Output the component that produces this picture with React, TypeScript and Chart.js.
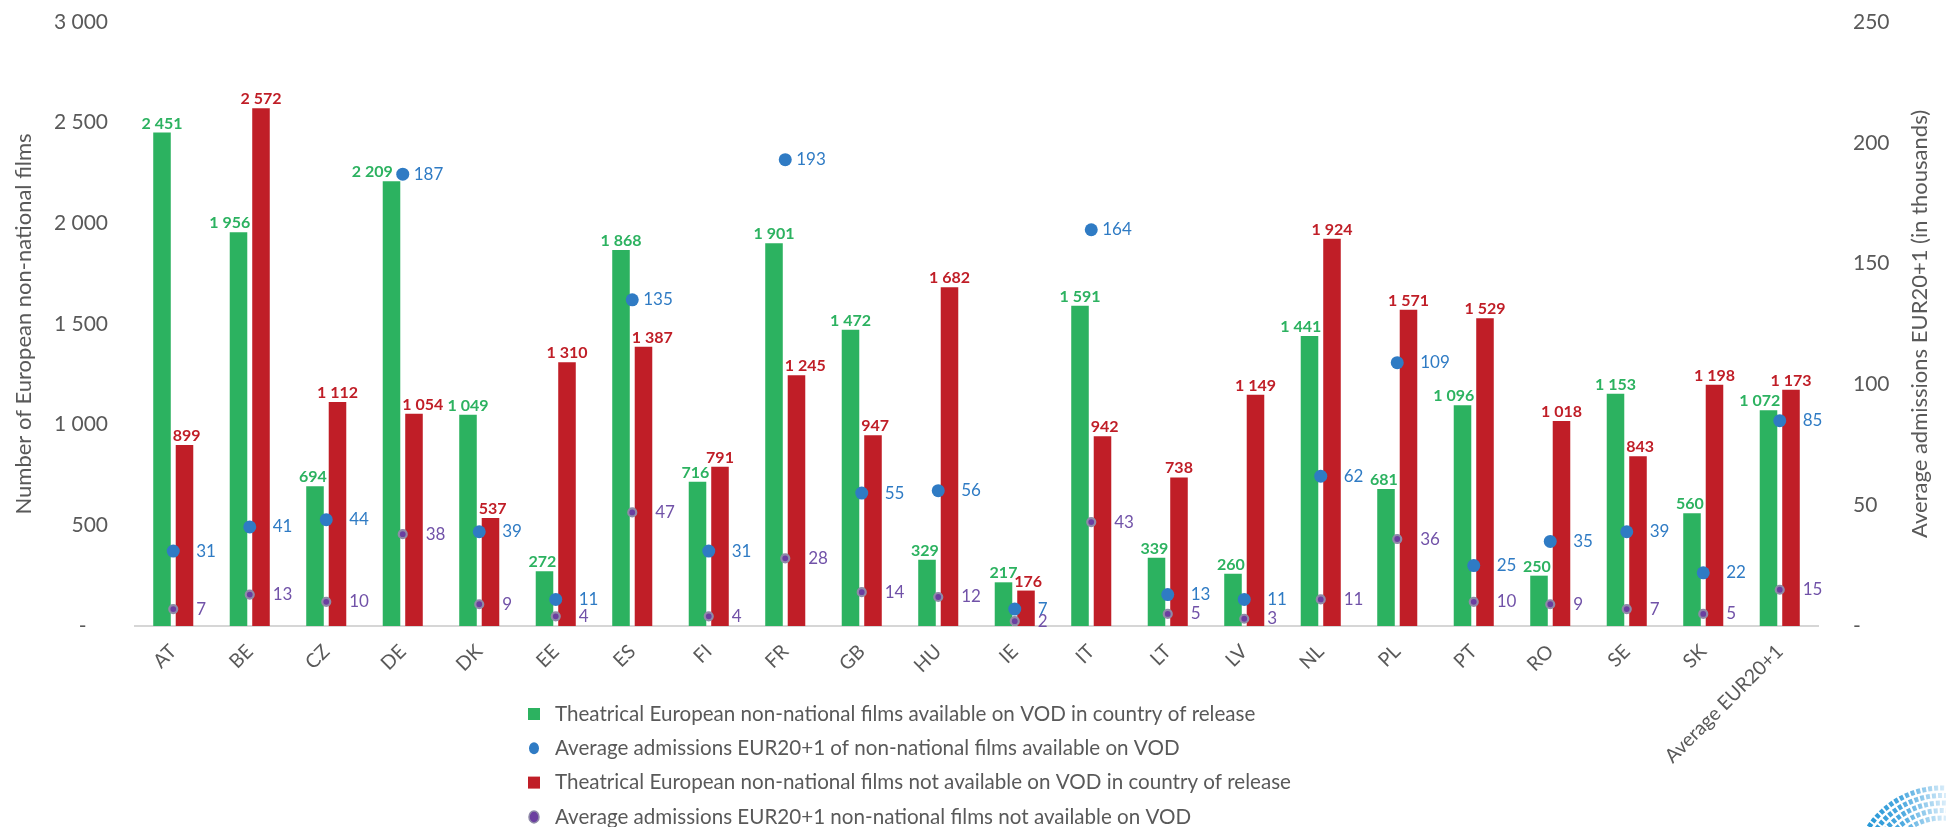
import React, { useEffect, useRef } from "react";
import { Chart, registerables } from "chart.js";

Chart.register(...registerables);

// ---------- data ----------
const categories = [
  "AT", "BE", "CZ", "DE", "DK", "EE", "ES", "FI", "FR", "GB", "HU",
  "IE", "IT", "LT", "LV", "NL", "PL", "PT", "RO", "SE", "SK", "Average EUR20+1",
];

const filmsAvailable = [
  2451, 1956, 694, 2209, 1049, 272, 1868, 716, 1901, 1472, 329,
  217, 1591, 339, 260, 1441, 681, 1096, 250, 1153, 560, 1072,
];

const filmsNotAvailable = [
  899, 2572, 1112, 1054, 537, 1310, 1387, 791, 1245, 947, 1682,
  176, 942, 738, 1149, 1924, 1571, 1529, 1018, 843, 1198, 1173,
];

const admissionsAvailable = [
  31, 41, 44, 187, 39, 11, 135, 31, 193, 55, 56,
  7, 164, 13, 11, 62, 109, 25, 35, 39, 22, 85,
];

const admissionsNotAvailable = [
  7, 13, 10, 38, 9, 4, 47, 4, 28, 14, 12,
  2, 43, 5, 3, 11, 36, 10, 9, 7, 5, 15,
];

const leftAxisMax = 3000;
const leftAxisStep = 500;
const rightAxisMax = 250;
const rightAxisStep = 50;

const leftTitle = "Number of European non-national films";
const rightTitle = "Average admissions EUR20+1 (in thousands)";

const seriesLabels = [
  "Average admissions EUR20+1 of non-national films available on VOD",
  "Average admissions EUR20+1 non-national films not available on VOD",
  "Theatrical European non-national films available on VOD in country of release",
  "Theatrical European non-national films not available on VOD in country of release",
];
// legend order: green, blue, red, purple (dataset indices)
const legendOrder = [2, 0, 3, 1];

// ---------- styles ----------
const FONT = "Lato, 'Open Sans', sans-serif";
const GREY = "#595959";
const GREEN = "#2cb260";
const RED = "#c01e27";
const BLUE = "#2f7bc4";
const PURPLE = "#6b3fa0";
const PURPLE_BORDER = "#8f8aa8";
const PURPLE_TEXT = "#7152a8";

const fmt = (v: number) =>
  v === 0 ? "-" : String(v).replace(/\B(?=(\d{3})+(?!\d))/g, " ");

const labelsPlugin = {
  id: "valueLabels",
  afterDatasetsDraw(chart: any) {
    const ctx = chart.ctx;
    const metas = chart.data.datasets.map((_: any, i: number) => chart.getDatasetMeta(i));
    const barMetas = metas.filter((m: any) => m.type === "bar" && !m.hidden);
    const pointMetas = metas.filter((m: any) => m.type === "line" && !m.hidden);

    // bar value labels
    ctx.save();
    ctx.font = `bold 16px ${FONT}`;
    ctx.textAlign = "center";
    ctx.textBaseline = "alphabetic";
    barMetas.forEach((meta: any) => {
      const ds = chart.data.datasets[meta.index];
      ctx.fillStyle = ds.labelColor;
      meta.data.forEach((el: any, j: number) => {
        const v = ds.data[j];
        if (v === null || v === undefined) return;
        const text = fmt(v as number);
        const w = ctx.measureText(text).width;
        const base = el.y - 4;
        const top = base - 12;
        let x = el.x;
        // keep clear of the neighbouring bar
        barMetas.forEach((om: any) => {
          if (om === meta) return;
          const ob = om.data[j];
          if (!ob || !isFinite(ob.y)) return;
          const bl = ob.x - ob.width / 2;
          const br = ob.x + ob.width / 2;
          const l = x - w / 2;
          const r = x + w / 2;
          if (ob.y < base && l < br && r > bl) {
            if (ob.x > el.x) x -= r - (bl - 2);
            else x += br + 2 - l;
          }
        });
        // keep clear of the dots
        pointMetas.forEach((pm: any) => {
          const p = pm.data[j];
          if (!p || !isFinite(p.y)) return;
          const rad = 7;
          const l = x - w / 2;
          const r = x + w / 2;
          if (p.y + rad > top && p.y - rad < base && p.x + rad > l && p.x - rad < r) {
            x = p.x - rad - 3 - w / 2;
          }
        });
        ctx.fillText(text, x, base);
      });
    });
    ctx.restore();

    // dot value labels
    ctx.save();
    ctx.font = `17px ${FONT}`;
    ctx.textAlign = "left";
    ctx.textBaseline = "middle";
    pointMetas.forEach((meta: any) => {
      const ds = chart.data.datasets[meta.index];
      ctx.fillStyle = ds.labelColor;
      meta.data.forEach((el: any, j: number) => {
        const v = ds.data[j];
        if (v === null || v === undefined) return;
        const off = v > 120 ? 11 : 23;
        ctx.fillText(String(v), el.x + off, el.y);
      });
    });
    ctx.restore();
  },
};

const extrasPlugin = {
  id: "extras",
  afterDraw(chart: any) {
    const ctx = chart.ctx;
    const area = chart.chartArea;
    // right axis title, reading bottom-to-top
    ctx.save();
    ctx.translate(1920, (area.top + area.bottom) / 2);
    ctx.rotate(-Math.PI / 2);
    ctx.font = `22px ${FONT}`;
    ctx.fillStyle = GREY;
    ctx.textAlign = "center";
    ctx.textBaseline = "middle";
    ctx.fillText(rightTitle, 0, 0);
    ctx.restore();

    // legend (one item per row)
    const markerX = 534;
    const textX = 555;
    const firstRow = 714;
    const rowGap = 34.3;
    legendOrder.forEach((dsIndex, row) => {
      const ds = chart.data.datasets[dsIndex];
      const y = firstRow + row * rowGap;
      ctx.save();
      if (ds.type === "bar") {
        ctx.fillStyle = ds.backgroundColor;
        ctx.fillRect(markerX - 6, y - 6, 12, 12);
      } else {
        ctx.beginPath();
        ctx.ellipse(markerX, y, 5, 6, 0, 0, Math.PI * 2);
        ctx.fillStyle = ds.pointBackgroundColor;
        ctx.fill();
        if (ds.pointBorderWidth) {
          ctx.lineWidth = 1.5;
          ctx.strokeStyle = ds.pointBorderColor;
          ctx.stroke();
        }
      }
      ctx.font = `20.6px ${FONT}`;
      ctx.fillStyle = GREY;
      ctx.textAlign = "left";
      ctx.textBaseline = "middle";
      ctx.fillText(ds.label, textX, y);
      ctx.restore();
    });

    // decorative logo arcs (bottom right)
    ctx.save();
    const cx = 1942;
    const cy = 876;
    const grad = ctx.createLinearGradient(1856, 0, 1946, 0);
    grad.addColorStop(0, "#1b93d4");
    grad.addColorStop(0.5, "#4aa8df");
    grad.addColorStop(1, "#dceefa");
    ctx.strokeStyle = grad;
    ctx.lineWidth = 5;
    ctx.setLineDash([4, 2]);
    [58, 65.5, 73, 80.5, 88].forEach((r) => {
      ctx.beginPath();
      ctx.arc(cx, cy, r, Math.PI * 1.08, Math.PI * 1.98);
      ctx.stroke();
    });
    ctx.restore();
  },
};

export default function App() {
  const canvasRef = useRef<HTMLCanvasElement | null>(null);

  useEffect(() => {
    const canvas = canvasRef.current;
    if (!canvas) return;
    Chart.defaults.font.family = FONT;
    Chart.defaults.color = GREY;

    const chart = new Chart(canvas, {
      type: "bar",
      data: {
        labels: categories,
        datasets: [
          {
            type: "line",
            label: seriesLabels[0],
            data: admissionsAvailable,
            yAxisID: "y1",
            showLine: false,
            pointRadius: 6.5,
            pointHoverRadius: 6.5,
            pointBackgroundColor: BLUE,
            pointBorderWidth: 0,
            borderColor: BLUE,
            labelColor: BLUE,
          } as any,
          {
            type: "line",
            label: seriesLabels[1],
            data: admissionsNotAvailable,
            yAxisID: "y1",
            showLine: false,
            pointRadius: 4,
            pointHoverRadius: 4,
            pointBackgroundColor: PURPLE,
            pointBorderColor: PURPLE_BORDER,
            pointBorderWidth: 2.2,
            borderColor: PURPLE,
            labelColor: PURPLE_TEXT,
          } as any,
          {
            type: "bar",
            label: seriesLabels[2],
            data: filmsAvailable,
            yAxisID: "y",
            backgroundColor: GREEN,
            categoryPercentage: 0.588,
            barPercentage: 0.78,
            labelColor: GREEN,
          } as any,
          {
            type: "bar",
            label: seriesLabels[3],
            data: filmsNotAvailable,
            yAxisID: "y",
            backgroundColor: RED,
            categoryPercentage: 0.588,
            barPercentage: 0.78,
            labelColor: RED,
          } as any,
        ],
      },
      options: {
        responsive: false,
        animation: false,
        layout: { padding: { top: 22, left: 0, right: 0, bottom: 0 } },
        plugins: {
          legend: { display: false },
          tooltip: { enabled: false },
        },
        scales: {
          x: {
            grid: { display: false, drawTicks: false },
            border: { display: true, color: "#d6d6d6", width: 2 },
            ticks: {
              autoSkip: false,
              minRotation: 45,
              maxRotation: 45,
              padding: 14,
              color: GREY,
              font: { size: 19.5, family: FONT },
            },
            afterFit: (s: any) => {
              s.height = 201;
            },
          },
          y: {
            position: "left",
            min: 0,
            max: leftAxisMax,
            grid: { display: false, drawTicks: false },
            border: { display: false },
            ticks: {
              stepSize: leftAxisStep,
              padding: 27,
              color: GREY,
              font: { size: 21, family: FONT },
              callback: (v: any) => (Number(v) === 0 ? "-    " : fmt(Number(v))),
            },
            title: {
              display: true,
              text: leftTitle,
              color: GREY,
              font: { size: 22, family: FONT },
              padding: { top: 11, bottom: 0 },
            },
            afterFit: (s: any) => {
              s.width = 135;
              s.paddingTop = 10;
              s.paddingBottom = 10;
            },
          },
          y1: {
            position: "right",
            min: 0,
            max: rightAxisMax,
            grid: { display: false, drawTicks: false },
            border: { display: false },
            ticks: {
              stepSize: rightAxisStep,
              padding: 35,
              color: GREY,
              font: { size: 21, family: FONT },
              callback: (v: any) => (Number(v) === 0 ? "-" : String(v)),
            },
            afterFit: (s: any) => {
              s.width = 128;
              s.paddingTop = 10;
              s.paddingBottom = 10;
            },
          },
        },
      } as any,
      plugins: [labelsPlugin, extrasPlugin],
    });

    return () => chart.destroy();
  }, []);

  return (
    <div
      style={{
        position: "fixed",
        left: 0,
        top: 0,
        width: 1946,
        height: 827,
        background: "#ffffff",
        overflow: "hidden",
      }}
    >
      <canvas ref={canvasRef} width={1946} height={827} style={{ display: "block" }} />
    </div>
  );
}
